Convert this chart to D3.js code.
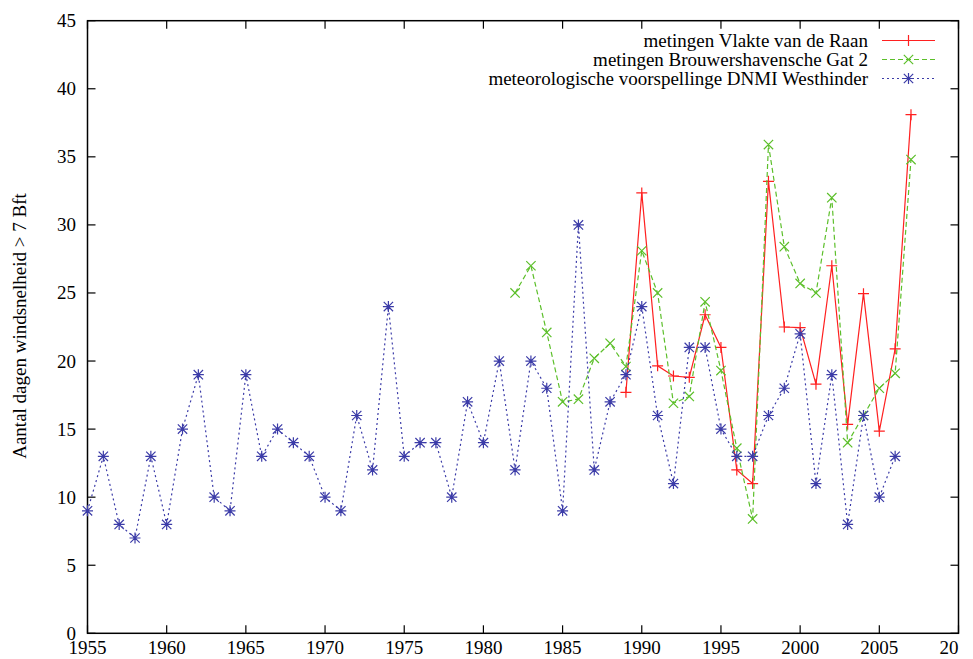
<!DOCTYPE html>
<html><head><meta charset="utf-8">
<script src="https://cdn.jsdelivr.net/npm/d3@7"></script>
<style>body{margin:0;background:#fff}svg{display:block}</style>
</head><body><svg id="c" width="973" height="659"></svg>
<script>
const yearsRaan = [1989,1990,1991,1992,1993,1994,1995,1996,1997,1998,1999,2000,2001,2002,2003,2004,2005,2006,2007];
const valuesRaan = [17.7,32.35,19.65,18.9,18.8,23.4,21.0,12.0,11.0,33.2,22.5,22.45,18.3,27.0,15.35,24.95,14.85,20.9,38.1];
const yearsBrouw = [1982,1983,1984,1985,1986,1987,1988,1989,1990,1991,1992,1993,1994,1995,1996,1997,1998,1999,2000,2001,2002,2003,2004,2005,2006,2007];
const valuesBrouw = [25,27,22.1,17.0,17.2,20.2,21.3,19.6,28.1,25.0,16.9,17.4,24.35,19.3,13.6,8.4,35.9,28.4,25.7,25.0,32.0,14.0,16.0,18.0,19.1,34.8];
const yearsDNMI = d3.range(1955, 2007);
const valuesDNMI = [9,13,8,7,13,8,15,19,10,9,19,13,15,14,13,10,9,16,12,24,13,14,14,10,17,14,20,12,20,18,9,30,12,17,19,24,16,11,21,21,15,13,13,16,18,22,11,19,8,16,10,13];
const xTicks = d3.range(1955, 2011, 5);
const yTicks = d3.range(0, 46, 5);
const seriesNames = ["metingen Vlakte van de Raan","metingen Brouwershavensche Gat 2","meteorologische voorspellinge DNMI Westhinder"];
const yTitle = "Aantal dagen windsnelheid > 7 Bft";

const svg = d3.select("#c");
const FF = "Times New Roman, Liberation Serif, DejaVu Serif, Noto Serif, serif";
const L=87.5, R=958.5, T=20.7, B=633.3;
const x = d3.scaleLinear().domain([1955,2010]).range([L,R]);
const y = d3.scaleLinear().domain([0,45]).range([B,T]);
const tl = 8;

svg.append("defs").append("clipPath").attr("id","clipx").append("rect")
  .attr("x",0).attr("y",0).attr("width",959).attr("height",659);

const g = svg.append("g").attr("stroke","#000").attr("stroke-width",1.2);
xTicks.forEach(t=>{
  g.append("line").attr("x1",x(t)).attr("x2",x(t)).attr("y1",B).attr("y2",B-tl);
  g.append("line").attr("x1",x(t)).attr("x2",x(t)).attr("y1",T).attr("y2",T+tl);
});
yTicks.forEach(t=>{
  g.append("line").attr("x1",L).attr("x2",L+tl).attr("y1",y(t)).attr("y2",y(t));
  g.append("line").attr("x1",R).attr("x2",R-tl).attr("y1",y(t)).attr("y2",y(t));
});
svg.append("rect").attr("x",L).attr("y",T).attr("width",R-L).attr("height",B-T)
  .attr("fill","none").attr("stroke","#000").attr("stroke-width",1.5);

svg.append("g").attr("clip-path","url(#clipx)").selectAll("text").data(xTicks).join("text")
  .style("font-family",FF).attr("x",d=>x(d)).attr("y",654).attr("text-anchor","middle").attr("font-size",19).text(d=>d);
svg.append("g").selectAll("text").data(yTicks).join("text")
  .style("font-family",FF).attr("x",76).attr("y",d=>y(d)+6.5).attr("text-anchor","end").attr("font-size",19).text(d=>d);
svg.append("text").style("font-family",FF).attr("transform","translate(26,326) rotate(-90)").attr("text-anchor","middle")
  .attr("font-size",19).text(yTitle);

const line = d3.line().x(d=>x(d[0])).y(d=>y(d[1]));
const colors = ["#ff2020","#5cbf2a","#3c3ca8"];
const dashes = [null,"5,3","2,3"];
const ms = 5.5;
function markerPath(pts, i){
  const p = d3.path();
  pts.forEach(([cx,cy])=>{
    if(i===0||i===2){p.moveTo(cx-ms,cy);p.lineTo(cx+ms,cy);p.moveTo(cx,cy-ms);p.lineTo(cx,cy+ms);}
    if(i===1||i===2){const a=ms*0.85;p.moveTo(cx-a,cy-a);p.lineTo(cx+a,cy+a);p.moveTo(cx-a,cy+a);p.lineTo(cx+a,cy-a);}
  });
  return p.toString();
}
const data = [
  d3.zip(yearsRaan, valuesRaan),
  d3.zip(yearsBrouw, valuesBrouw),
  d3.zip(yearsDNMI, valuesDNMI)
];
data.forEach((ds,i)=>{
  const gg = svg.append("g");
  gg.append("path").datum(ds).attr("d",line).attr("fill","none").attr("stroke",colors[i])
    .attr("stroke-width",1.2).attr("stroke-dasharray",dashes[i]);
  gg.append("path").attr("d",markerPath(ds.map(d=>[x(d[0]),y(d[1])]),i))
    .attr("fill","none").attr("stroke",colors[i]).attr("stroke-width",1.2);
});

const legY = [40.5, 59.5, 78.5];
seriesNames.forEach((n,i)=>{
  svg.append("text").style("font-family",FF).attr("x",868).attr("y",legY[i]+6).attr("text-anchor","end").attr("font-size",19).text(n);
  svg.append("line").attr("x1",882).attr("x2",935).attr("y1",legY[i]).attr("y2",legY[i])
    .attr("stroke",colors[i]).attr("stroke-width",1.2).attr("stroke-dasharray",dashes[i]);
  svg.append("path").attr("d",markerPath([[908.5,legY[i]]],i)).attr("fill","none").attr("stroke",colors[i]).attr("stroke-width",1.2);
});
</script></body></html>
